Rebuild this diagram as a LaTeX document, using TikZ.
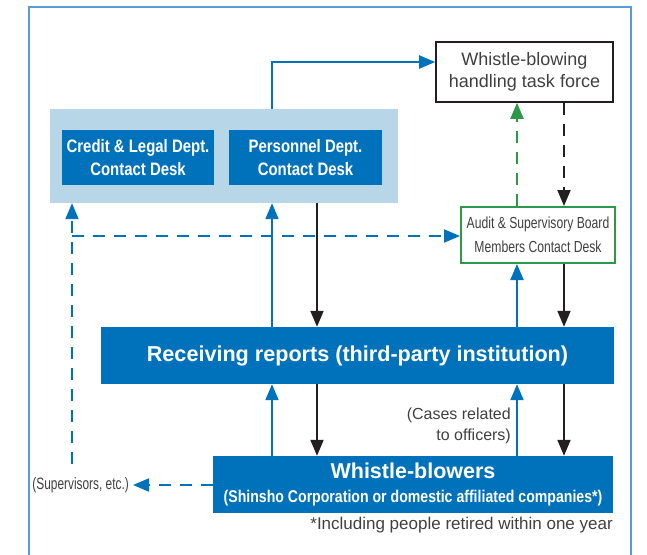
\documentclass[tikz,border=0pt]{standalone}
\usepackage{fontspec}
\setmainfont{Liberation Sans}
\newfontfamily\narrowfont[FakeStretch=0.83]{Liberation Sans}
\newfontfamily\slimfont[FakeStretch=0.76]{Liberation Sans}
\newfontfamily\thinfont[FakeStretch=0.72]{Liberation Sans}
\usetikzlibrary{arrows.meta}
\definecolor{deskblue}{RGB}{0,114,188}
\definecolor{paleblue}{RGB}{183,214,232}
\definecolor{auditgreen}{RGB}{43,153,72}
\definecolor{framecol}{RGB}{91,155,213}
\definecolor{textgray}{RGB}{64,64,64}
\definecolor{linedark}{RGB}{35,31,32}
\newcommand{\fsz}[2]{\fontsize{#1}{#2}\selectfont}

\begin{document}
\begin{tikzpicture}[x=1pt,y=-1pt,
	desk/.style={fill=deskblue, text=white, inner sep=0pt, align=center},
	upflow/.style={draw=deskblue, line width=2pt, -{Triangle[length=16pt,width=13pt]}},
	downflow/.style={draw=linedark, line width=2pt, -{Triangle[length=16pt,width=13pt]}},
	dashflow/.style={upflow, dash pattern=on 12pt off 9pt}]
	\useasboundingbox (0,0) rectangle (647,554);
	\draw[framecol, line width=1.2pt] (29,560) -- (29,7) -- (631,7) -- (631,560);

	% columns of the connectors
	\coordinate (xa) at (272,0);
	\coordinate (xb) at (317,0);
	\coordinate (xc) at (72,0);
	\coordinate (xd) at (517,0);
	\coordinate (xe) at (564,0);
	\coordinate (ytop) at (0,62);
	\coordinate (ysup) at (0,485);
	\coordinate (split) at (72,236);
	\coordinate (supend) at (72,464);

	% boxes
	\node[fill=paleblue, minimum width=348pt, minimum height=94pt] (container) at (224,156) {};
	\node[desk, minimum width=152pt, minimum height=55pt, font=\narrowfont\bfseries\fsz{18}{23}] (credit) at (138,157.5)
		{Credit \& Legal Dept.\\Contact Desk};
	\node[desk, minimum width=153pt, minimum height=55pt, font=\narrowfont\bfseries\fsz{18}{23}] (personnel) at (305.5,157.5)
		{Personnel Dept.\\Contact Desk};
	\node[draw=linedark, line width=1.6pt, fill=white, text=textgray, align=center,
		minimum width=177pt, minimum height=60pt, inner sep=0pt, font=\fsz{18}{22}] (taskforce) at (524.5,72)
		{Whistle-blowing\\handling task force};
	\node[draw=auditgreen, line width=2pt, fill=white, text=textgray, align=center,
		minimum width=154pt, minimum height=56pt, inner sep=0pt, font=\slimfont\fsz{16}{24}] (audit) at (538,235)
		{Audit \& Supervisory Board\\Members Contact Desk};
	\node[desk, minimum width=513pt, minimum height=57pt, font=\bfseries\fsz{21.6}{24}] (receiving) at (357.5,355.5)
		{Receiving reports (third-party institution)};
	\node[desk, minimum width=400pt, minimum height=57pt, font=\bfseries\fsz{17}{24}] (whistle) at (413,484.5)
		{{\fsz{21.5}{24}Whistle-blowers}\\{\narrowfont(Shinsho Corporation or domestic affiliated companies*)}};

	% texts
	\node[text=textgray, anchor=east, inner sep=0pt, font=\thinfont\fsz{16.5}{20}] (supervisors) at (129,485)
		{(Supervisors, etc.)};
	\node[text=textgray, anchor=east, align=right, inner sep=0pt, font=\fsz{16}{21.5}] (cases) at (511,426)
		{(Cases related\\to officers)};
	\node[text=textgray, anchor=east, inner sep=0pt, font=\fsz{17}{20}] (footnote) at (613,525)
		{*Including people retired within one year};

	% connectors
	\draw[upflow] (container.north -| xa) |- (taskforce.west |- ytop);
	\draw[upflow] (receiving.north -| xa) -- (container.south -| xa);
	\draw[downflow] (container.south -| xb) -- (receiving.north -| xb);
	\draw[upflow] (whistle.north -| xa) -- (receiving.south -| xa);
	\draw[downflow] (receiving.south -| xb) -- (whistle.north -| xb);
	\draw[upflow] (receiving.north -| xd) -- (audit.south -| xd);
	\draw[downflow] (audit.south -| xe) -- (receiving.north -| xe);
	\draw[upflow] (whistle.north -| xd) -- (receiving.south -| xd);
	\draw[downflow] (receiving.south -| xe) -- (whistle.north -| xe);
	\draw[upflow, draw=auditgreen, dash pattern=on 12pt off 9pt] (audit.north -| xd) -- (taskforce.south -| xd);
	\draw[downflow, dash pattern=on 12pt off 9pt] (taskforce.south -| xe) -- (audit.north -| xe);
	\draw[dashflow] (supend) -- (container.south -| xc);
	\draw[dashflow] (split) -- (audit.west |- split);
	\draw[dashflow] (whistle.west |- ysup) -- ([xshift=4pt]supervisors.east);
\end{tikzpicture}
\end{document}
